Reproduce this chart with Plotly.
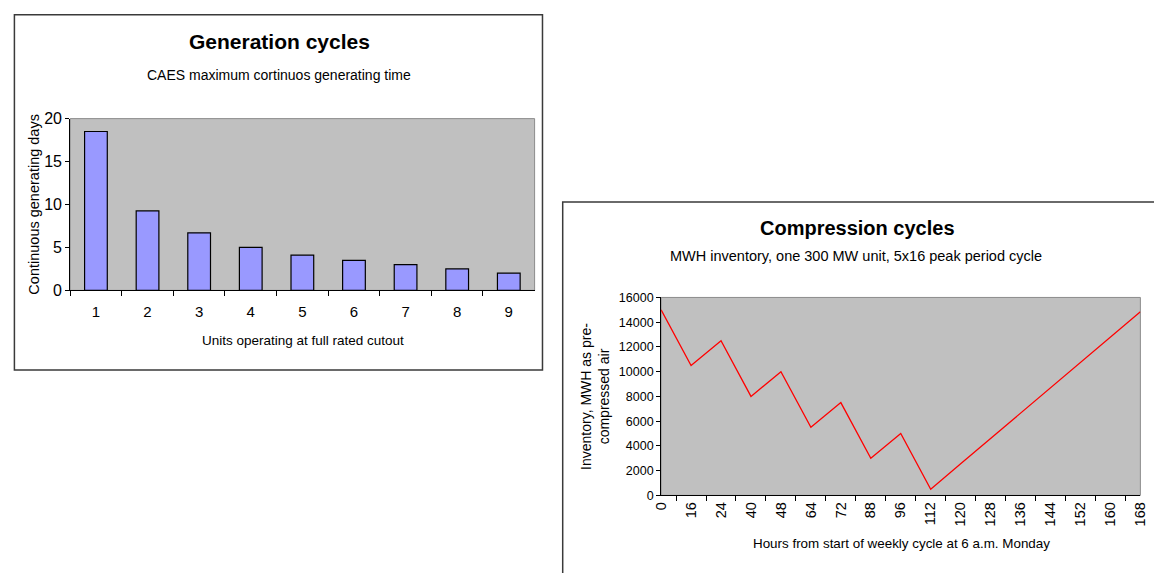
import plotly.graph_objects as go
from plotly.subplots import make_subplots

# Generation cycles: continuous generating days by number of units at full output
units = ["1", "2", "3", "4", "5", "6", "7", "8", "9"]
generating_days = [18.5, 9.25, 6.7, 5.0, 4.1, 3.5, 3.0, 2.5, 2.0]

# Compression cycles: MWH inventory over the weekly cycle
hours = ["0", "16", "24", "40", "48", "64", "72", "88", "96", "112",
         "120", "128", "136", "144", "152", "160", "168"]
inventory_mwh = [15000, 10500, 12500, 8000, 10000, 5500, 7500, 3000, 5000, 500,
                 2550, 4600, 6650, 8700, 10750, 12800, 14850]

gen_yticks = [0, 5, 10, 15, 20]
comp_yticks = [0, 2000, 4000, 6000, 8000, 10000, 12000, 14000, 16000]

W, H = 1154, 573
FONT = "Liberation Sans, Arial, sans-serif"


def px(x):
    return x / W


def py(y):
    return 1 - y / H


fig = make_subplots(rows=1, cols=2)

fig.add_trace(go.Bar(
    x=units, y=generating_days,
    marker=dict(color="#9999FF", line=dict(color="#000000", width=1.2)),
    showlegend=False,
), row=1, col=1)

fig.add_trace(go.Scatter(
    x=hours, y=inventory_mwh, mode="lines",
    line=dict(color="#FF0000", width=1.3),
    showlegend=False,
), row=1, col=2)

axis_common = dict(
    showgrid=False, zeroline=False, showline=True, linecolor="#000000",
    linewidth=1, ticks="outside", tickcolor="#000000", ticklen=5,
    tickfont=dict(family=FONT, color="#000000"),
)

fig.update_layout(
    width=W, height=H, autosize=False,
    margin=dict(l=0, r=0, t=0, b=0),
    paper_bgcolor="#FFFFFF", plot_bgcolor="#C0C0C0",
    bargap=0.56,
    xaxis=dict(axis_common, domain=[px(63), px(534)], type="category",
               tickson="boundaries", tickfont=dict(family=FONT, size=15, color="#000000"),
               ticklabelstandoff=8),
    yaxis=dict(axis_common, domain=[py(291), py(114)], range=[0, 20],
               tickvals=gen_yticks, ticklen=4,
               tickfont=dict(family=FONT, size=16, color="#000000")),
    xaxis2=dict(axis_common, domain=[px(662.3), px(1148.3)], type="category",
                tickson="boundaries", tickangle=-90,
                tickfont=dict(family=FONT, size=14.5, color="#000000")),
    yaxis2=dict(axis_common, domain=[py(502.3), py(298.3)], range=[0, 16000],
                tickvals=comp_yticks, tickformat="d", ticklen=4,
                tickfont=dict(family=FONT, size=12.5, color="#000000")),
)

shapes = [
    # chart frames
    dict(type="rect", xref="paper", yref="paper",
         x0=px(6.5), x1=px(542), y0=py(373), y1=py(7),
         line=dict(color="#3a3a3a", width=1.5), fillcolor="rgba(0,0,0,0)"),
    dict(type="rect", xref="paper", yref="paper",
         x0=px(562.5), x1=px(1170), y0=py(590), y1=py(200),
         line=dict(color="#3a3a3a", width=1.5), fillcolor="rgba(0,0,0,0)"),
    # plot-area borders
    dict(type="rect", xref="x domain", yref="y domain", x0=0, x1=1, y0=0, y1=1,
         line=dict(color="#8c8c8c", width=1), layer="below"),
    dict(type="rect", xref="x2 domain", yref="y2 domain", x0=0, x1=1, y0=0, y1=1,
         line=dict(color="#8c8c8c", width=1), layer="below"),
]
fig.update_layout(shapes=shapes)


def label(text, x, y, size, bold=False, angle=0):
    return dict(text=f"<b>{text}</b>" if bold else text, x=px(x), y=py(y),
                xref="paper", yref="paper", showarrow=False, textangle=angle,
                xanchor="center", yanchor="middle",
                font=dict(family=FONT, size=size, color="#000000"))


fig.update_layout(annotations=[
    label("Generation cycles", 275, 35, 21, bold=True),
    label("CAES maximum cortinuos generating time", 275, 69, 14),
    label("Units operating at full rated cutout", 298.7, 343, 13.5),
    label("Continuous generating days", 26, 202, 14.5, angle=-90),
    label("Compression cycles", 861, 227, 20, bold=True),
    label("MWH inventory, one 300 MW unit, 5x16 peak period cycle", 860, 256, 14.5),
    label("Hours from start of weekly cycle at 6 a.m. Monday", 906, 551.7, 13.4),
    label("Inventory, MWH as pre-<br>compressed air", 595, 400, 14, angle=-90),
])

fig.write_html("out.html")
